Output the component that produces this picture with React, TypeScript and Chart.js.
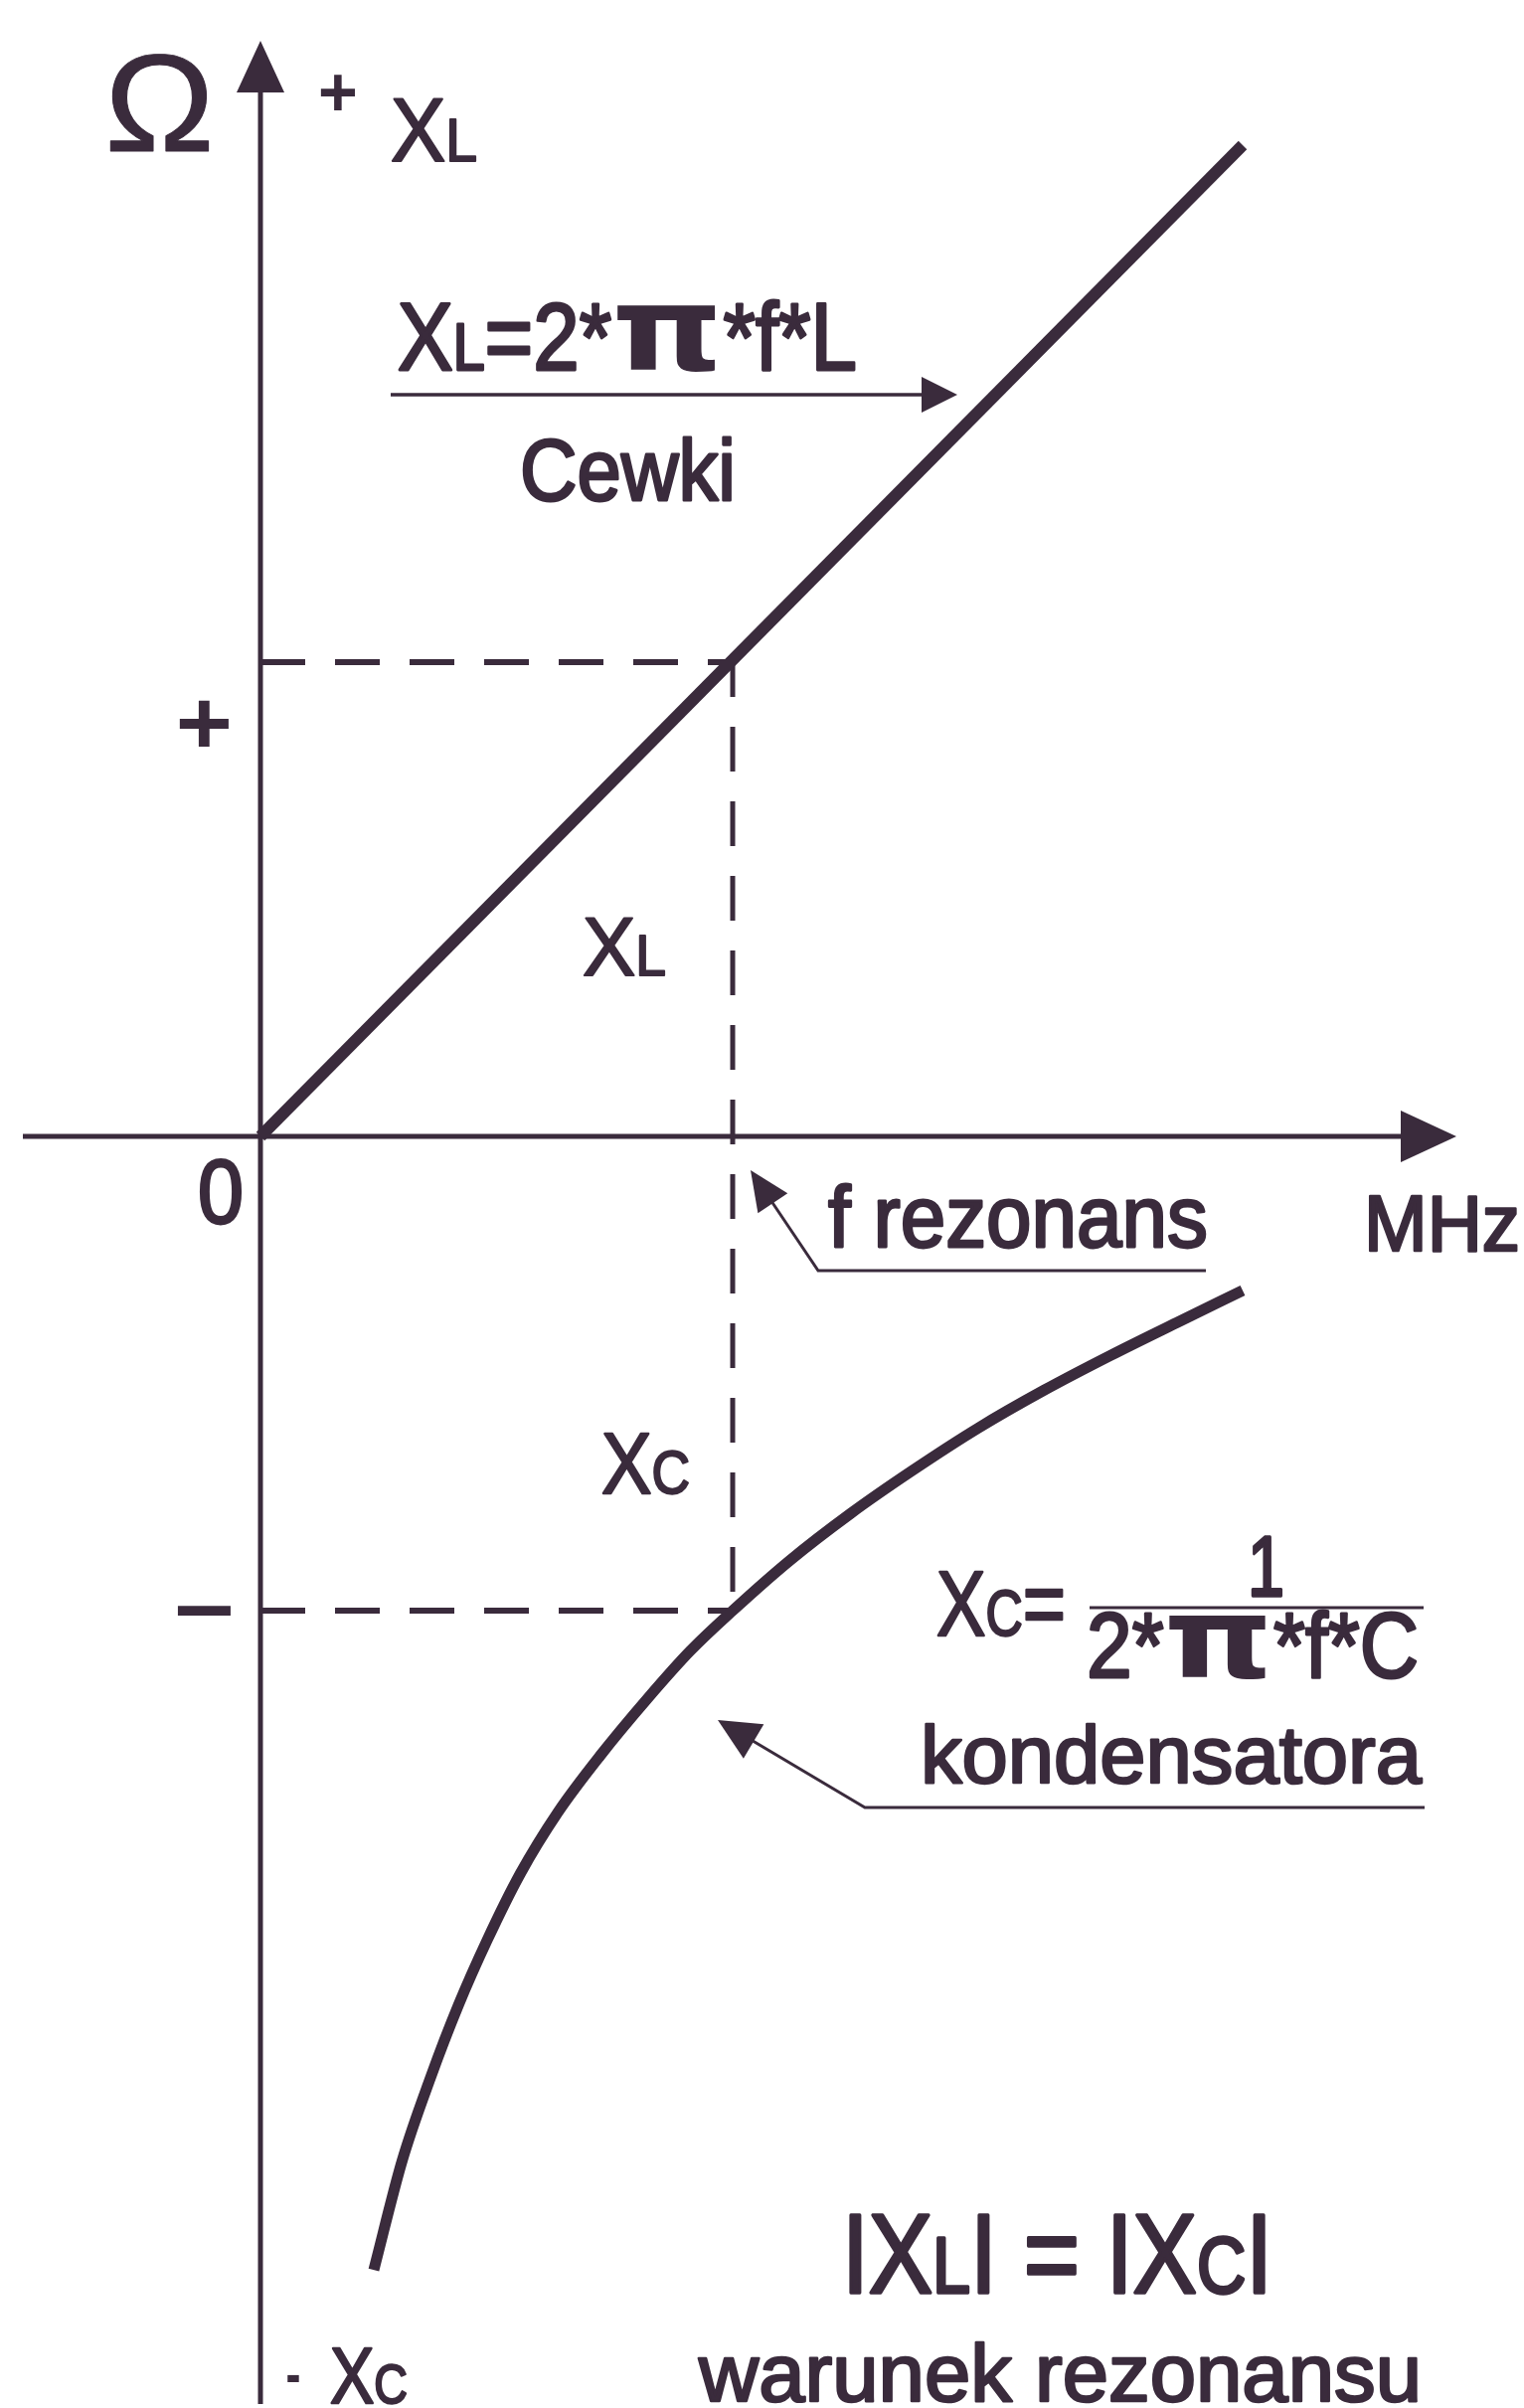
import React, { useEffect, useRef } from 'react';
import { Chart, registerables } from 'chart.js';

Chart.register(...registerables);

// ---- data (normalised units: resonance frequency = 1, |X| at resonance = 1) ----
const resonanceFreq = 1;
const resonanceReactance = 1;

const xlFreq = [0, 2.08];
const xlValues = [0, 2.09];

const xcFreq = [0.24, 0.3, 0.36, 0.42, 0.48, 0.55, 0.63, 0.72, 0.82, 0.91, 1.0, 1.12, 1.25, 1.38, 1.52, 1.66, 1.8, 1.94, 2.08];
const xcValues = [-2.39, -2.16, -1.985, -1.83, -1.695, -1.555, -1.425, -1.305, -1.185, -1.085, -1.0, -0.895, -0.795, -0.705, -0.615, -0.535, -0.462, -0.393, -0.325];

const yTickValues = [1, -1];
const yTickLabels = ['+', '−'];
const originLabel = '0';
const xAxisUnit = 'MHz';
const yAxisUnit = 'Ω';

const INK = '#3a2b3c';
const FAMILY = "'Liberation Sans', Arial, sans-serif";
const PI_FAMILY = "'DejaVu Sans', 'Liberation Sans', sans-serif";
const TXT = 2.6; // stroke thickening for the scanned-looking text

type Seg = { t: string; size: number; bold?: boolean; sx?: number; sy?: number; fam?: string };

function fontOf(s: Seg) {
  return `${s.bold ? 'bold ' : ''}${s.size}px ${s.fam ?? FAMILY}`;
}

function drawRich(ctx: CanvasRenderingContext2D, segs: Seg[], x0: number, x1: number, baseline: number, thick = TXT) {
  const widths: number[] = [];
  let total = 0;
  segs.forEach((s) => {
    ctx.font = fontOf(s);
    const w = ctx.measureText(s.t).width * (s.sx ?? 1);
    widths.push(w);
    total += w;
  });
  const k = (x1 - x0) / total;
  let x = x0;
  segs.forEach((s, i) => {
    ctx.save();
    ctx.font = fontOf(s);
    ctx.translate(x, baseline);
    ctx.scale(k * (s.sx ?? 1), s.sy ?? 1);
    ctx.fillStyle = INK;
    ctx.strokeStyle = INK;
    ctx.lineWidth = thick / (k * (s.sx ?? 1));
    ctx.lineJoin = 'round';
    ctx.textAlign = 'left';
    ctx.textBaseline = 'alphabetic';
    ctx.fillText(s.t, 0, 0);
    if (thick > 0 && !s.bold) ctx.strokeText(s.t, 0, 0);
    ctx.restore();
    x += widths[i] * k;
  });
}

// draw text with its ink box centred at (cx, cy), ink width forced to w
function drawCentered(ctx: CanvasRenderingContext2D, s: Seg, cx: number, cy: number, w: number) {
  ctx.save();
  ctx.font = fontOf(s);
  const m = ctx.measureText(s.t);
  const inkW = m.actualBoundingBoxLeft + m.actualBoundingBoxRight;
  const k = w / inkW;
  const baseline = cy + (m.actualBoundingBoxAscent - m.actualBoundingBoxDescent) / 2;
  ctx.translate(cx, baseline);
  ctx.scale(k, 1);
  ctx.fillStyle = INK;
  ctx.textAlign = 'left';
  ctx.textBaseline = 'alphabetic';
  const left = -(m.actualBoundingBoxRight - m.actualBoundingBoxLeft) / 2;
  ctx.fillText(s.t, left, 0);
  ctx.restore();
}

function arrow(ctx: CanvasRenderingContext2D, pts: number[][], len: number, halfW: number, lw: number) {
  const tip = pts[pts.length - 1];
  const prev = pts[pts.length - 2];
  const dx = tip[0] - prev[0];
  const dy = tip[1] - prev[1];
  const d = Math.hypot(dx, dy);
  const ux = dx / d;
  const uy = dy / d;
  const bx = tip[0] - ux * len;
  const by = tip[1] - uy * len;
  ctx.save();
  ctx.strokeStyle = INK;
  ctx.fillStyle = INK;
  ctx.lineWidth = lw;
  ctx.lineCap = 'butt';
  ctx.beginPath();
  ctx.moveTo(pts[0][0], pts[0][1]);
  for (let i = 1; i < pts.length - 1; i++) ctx.lineTo(pts[i][0], pts[i][1]);
  ctx.lineTo(bx + ux * 2, by + uy * 2);
  ctx.stroke();
  ctx.beginPath();
  ctx.moveTo(tip[0], tip[1]);
  ctx.lineTo(bx - uy * halfW, by + ux * halfW);
  ctx.lineTo(bx + uy * halfW, by - ux * halfW);
  ctx.closePath();
  ctx.fill();
  ctx.restore();
}

const PI: Seg = { t: 'π', size: 96, bold: true, fam: PI_FAMILY, sx: 1.7, sy: 1.22 };

const annotationPlugin = {
  id: 'reactanceAnnotations',
  beforeDatasetsDraw(chart: any) {
    const ctx: CanvasRenderingContext2D = chart.ctx;
    const xs = chart.scales.x;
    const ys = chart.scales.y;
    const ox = xs.getPixelForValue(0);
    const oy = ys.getPixelForValue(0);
    // axes with arrowheads
    arrow(ctx, [[23, oy], [1465, oy]], 56, 26, 5);
    arrow(ctx, [[ox, 2418], [ox, 41]], 52, 24, 5);
  },
  afterDatasetsDraw(chart: any) {
    const ctx: CanvasRenderingContext2D = chart.ctx;
    const xs = chart.scales.x;
    const ys = chart.scales.y;
    const ox = xs.getPixelForValue(0);
    const oy = ys.getPixelForValue(0);

    // axis units
    drawRich(ctx, [{ t: yAxisUnit, size: 140 }], 105, 216, 152, 1);
    drawRich(ctx, [{ t: xAxisUnit, size: 80 }], 1372, 1529, 1258);

    // y tick labels
    const tickOffsets = [61, 0];
    const tickWidths = [50, 54];
    yTickValues.forEach((v, i) => {
      drawCentered(ctx, { t: yTickLabels[i], size: 90, bold: true }, ox - 57, ys.getPixelForValue(v) + tickOffsets[i], tickWidths[i]);
    });
    drawRich(ctx, [{ t: originLabel, size: 90 }], 199, 245, oy + 87);

    // top: + XL
    drawCentered(ctx, { t: '+', size: 70, bold: true }, 340, 93, 36);
    drawRich(ctx, [{ t: 'X', size: 90 }, { t: 'L', size: 62 }], 393, 480, 162, 2);

    // inductive formula
    drawRich(ctx, [
      { t: 'X', size: 96 }, { t: 'L', size: 66 }, { t: '=', size: 96 }, { t: '2', size: 96 }, { t: '*', size: 96 },
      PI, { t: '*', size: 96 }, { t: 'f', size: 96 }, { t: '*', size: 96 }, { t: 'L', size: 96 },
    ], 400, 862, 372);
    arrow(ctx, [[393, 397], [963, 397]], 36, 18, 3.5);
    drawRich(ctx, [{ t: 'Cewki', size: 88 }], 523, 740, 503);

    // XL / XC labels at the resonance guide
    drawRich(ctx, [{ t: 'X', size: 84 }, { t: 'L', size: 58 }], 586, 670, 981, 2);
    drawRich(ctx, [{ t: 'X', size: 88 }, { t: 'C', size: 62 }], 605, 694, 1502, 2);

    // f rezonans
    drawRich(ctx, [{ t: 'f rezonans', size: 88 }], 833, 1215, 1254);
    arrow(ctx, [[1213, 1278], [823, 1278], [755, 1177]], 40, 18, 3);

    // capacitive formula
    drawRich(ctx, [{ t: 'X', size: 92 }, { t: 'C', size: 64 }, { t: '=', size: 92 }], 942, 1072, 1645, 2);
    drawRich(ctx, [{ t: '1', size: 85 }], 1255, 1292, 1605);
    ctx.save();
    ctx.strokeStyle = INK;
    ctx.lineWidth = 3;
    ctx.beginPath();
    ctx.moveTo(1096, 1617);
    ctx.lineTo(1432, 1617);
    ctx.stroke();
    ctx.restore();
    drawRich(ctx, [
      { t: '2', size: 92 }, { t: '*', size: 92 }, { ...PI, size: 92 },
      { t: '*', size: 92 }, { t: 'f', size: 92 }, { t: '*', size: 92 }, { t: 'C', size: 92 },
    ], 1093, 1427, 1687);
    drawRich(ctx, [{ t: 'kondensatora', size: 82 }], 926, 1430, 1793);
    arrow(ctx, [[1433, 1818], [870, 1818], [722, 1730]], 42, 20, 3);

    // resonance condition
    drawRich(ctx, [
      { t: 'I', size: 113 }, { t: 'X', size: 113 }, { t: 'L', size: 80 }, { t: 'I', size: 113 }, { t: ' = ', size: 113 },
      { t: 'I', size: 113 }, { t: 'X', size: 113 }, { t: 'C', size: 80 }, { t: 'I', size: 113 },
    ], 847, 1280, 2306, 3);
    drawRich(ctx, [{ t: 'warunek rezonansu', size: 82 }], 703, 1430, 2415);

    // - XC at the bottom
    drawCentered(ctx, { t: '-', size: 60, bold: true }, 295, 2392, 12);
    drawRich(ctx, [{ t: 'X', size: 80 }, { t: 'C', size: 56 }], 332, 410, 2417, 2);
  },
};

export default function App() {
  const ref = useRef<HTMLCanvasElement | null>(null);
  useEffect(() => {
    if (!ref.current) return;
    const W = 1533;
    const H = 2422;
    const ox = 262;
    const oy = 1143;
    const ux = 475;
    const uy = 477;

    const guideTop = [{ x: 0, y: resonanceReactance }, { x: resonanceFreq, y: resonanceReactance }];
    const guideVert = [{ x: resonanceFreq, y: resonanceReactance }, { x: resonanceFreq, y: -resonanceReactance }];
    const guideBottom = [{ x: 0, y: -resonanceReactance }, { x: resonanceFreq, y: -resonanceReactance }];

    const dashed = {
      borderColor: INK,
      borderWidth: 6,
      borderDash: [45, 30],
      pointRadius: 0,
      fill: false,
      tension: 0,
    };

    const chart = new Chart(ref.current, {
      type: 'line',
      data: {
        datasets: [
          {
            label: 'XL',
            data: xlFreq.map((f, i) => ({ x: f, y: xlValues[i] })),
            borderColor: INK,
            borderWidth: 12,
            pointRadius: 0,
            fill: false,
            borderCapStyle: 'butt',
          },
          {
            label: 'XC',
            data: xcFreq.map((f, i) => ({ x: f, y: xcValues[i] })),
            borderColor: INK,
            borderWidth: 11,
            pointRadius: 0,
            fill: false,
            cubicInterpolationMode: 'monotone',
            borderCapStyle: 'butt',
          },
          { label: 'g1', data: guideTop, ...dashed, borderDashOffset: 0 },
          { label: 'g2', data: guideVert, ...dashed, borderWidth: 5, borderDashOffset: 10 },
          { label: 'g3', data: guideBottom, ...dashed, borderDashOffset: 0 },
        ] as any,
      },
      options: {
        animation: false,
        responsive: false,
        devicePixelRatio: 1,
        layout: { padding: 0 },
        plugins: { legend: { display: false }, tooltip: { enabled: false } },
        events: [],
        scales: {
          x: { type: 'linear', display: false, min: -ox / ux, max: (W - ox) / ux },
          y: { type: 'linear', display: false, min: -(H - oy) / uy, max: oy / uy },
        },
      } as any,
      plugins: [annotationPlugin],
    });
    return () => chart.destroy();
  }, []);

  return (
    <div style={{ position: 'absolute', left: 0, top: 0, width: 1533, height: 2422, background: '#fff' }}>
      <canvas ref={ref} width={1533} height={2422} style={{ width: 1533, height: 2422, display: 'block' }} />
    </div>
  );
}
